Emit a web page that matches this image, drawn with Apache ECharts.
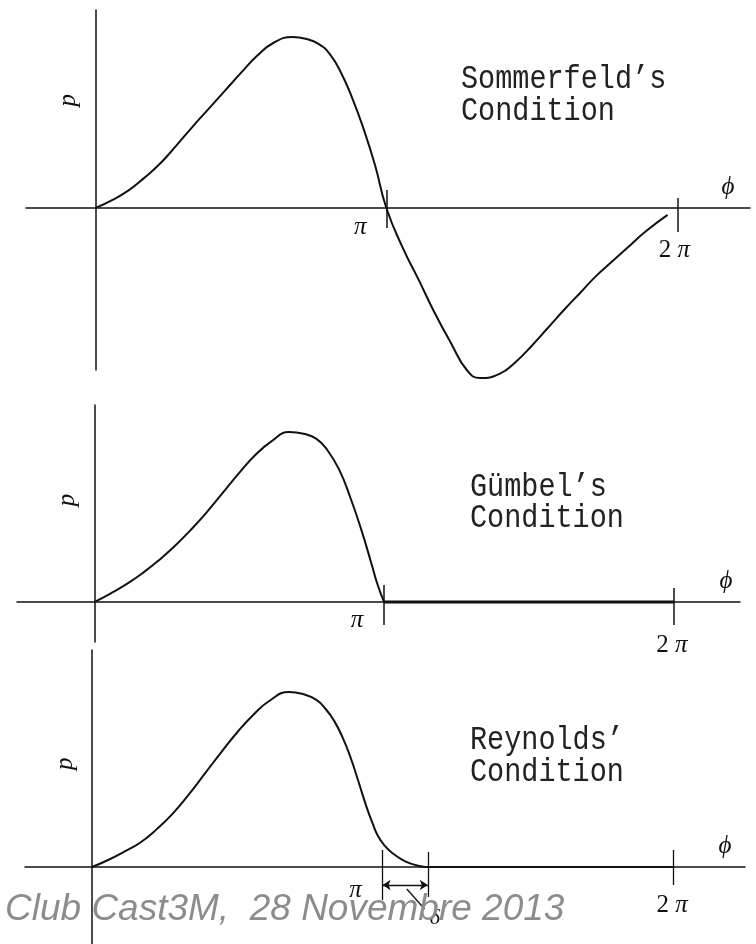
<!DOCTYPE html>
<html>
<head>
<meta charset="utf-8">
<title>Pressure boundary conditions</title>
<script src="https://cdn.jsdelivr.net/npm/echarts@6/dist/echarts.min.js"></script>
<style>
  html, body { margin: 0; padding: 0; background: #ffffff; }
  #chart { width: 756px; height: 944px; }
</style>
</head>
<body>
<div id="chart"></div>
<script>
// Film pressure p(φ) around a journal bearing under three boundary conditions.
// φ in degrees, p normalised to its peak value.

const sommerfeldPhi = [0, 10, 20, 30, 40, 50, 60, 70, 80, 90, 100, 110, 122, 130, 138, 145, 152, 159, 166, 173, 180,
  190, 200, 210, 220, 230, 238, 250, 260, 270, 280, 290, 300, 310, 320, 330, 340, 354];
const sommerfeldP = [0, 0.045, 0.1, 0.175, 0.26, 0.365, 0.475, 0.58, 0.685, 0.79, 0.89, 0.965, 1.0, 0.99, 0.96, 0.9, 0.79, 0.64, 0.46, 0.25, 0,
  -0.23, -0.42, -0.615, -0.79, -0.95, -0.994, -0.97, -0.9, -0.805, -0.7, -0.595, -0.495, -0.395, -0.31, -0.225, -0.14, -0.04];

const gumbelPhi = [0, 10, 20, 30, 40, 50, 60, 70, 80, 90, 100, 110, 121, 130, 138, 145, 152, 159, 166, 172, 176, 180];
const gumbelP = [0, 0.05, 0.105, 0.17, 0.245, 0.33, 0.425, 0.53, 0.645, 0.76, 0.865, 0.945, 1.0, 0.99, 0.96, 0.89, 0.78, 0.615, 0.42, 0.23, 0.1, 0];
// negative pressures discarded: p = 0 from π to 2π
const gumbelZeroPhi = [180, 360];
const gumbelZeroP = [0, 0];

const reynoldsPhi = [0, 10, 20, 30, 40, 50, 60, 70, 80, 90, 100, 110, 122, 130, 139, 145, 150, 155, 160, 165, 170, 174, 177,
  181, 186, 192, 198, 203, 208, 360];
const reynoldsP = [0, 0.04, 0.088, 0.14, 0.215, 0.305, 0.415, 0.535, 0.655, 0.77, 0.87, 0.95, 1.0, 0.99, 0.955, 0.9, 0.835, 0.745, 0.63, 0.49, 0.345, 0.245, 0.18,
  0.125, 0.08, 0.042, 0.018, 0.006, 0, 0];
const reynoldsRupture = 208;   // φ = π + δ, where the film ruptures

const tickAngles = [180, 360];
const tickLabels = ['{i|π}', '2 {i|π}'];

const conditionTitles = [
  ['Sommerfeld’s', 'Condition'],
  ['Gümbel’s', 'Condition'],
  ['Reynolds’', 'Condition']
];

const INK = '#111111';
const SERIF = '"Liberation Serif", "DejaVu Serif", serif';
const MONO = '"Liberation Mono", "DejaVu Sans Mono", monospace';

// Layout of the three stacked panels (pixels) and their axis ranges.
const layout = [
  { left: 26, width: 724, top: 10, height: 360, xMin: -43, xMax: 405, yMin: -0.947, yMax: 1.158,
    ticks: [[18, 20], [10, 24]], labelOffsets: [[-26, 19], [-3, 42]], phiGap: -22, pAt: 0.63,
    titleX: 461, titleY: [79, 111] },
  { left: 17, width: 723, top: 405, height: 237, xMin: -48, xMax: 401, yMin: -0.235, yMax: 1.159,
    ticks: [[17, 23], [14, 23]], labelOffsets: [[-27, 18], [-2, 43]], phiGap: -14, pAt: 0.6,
    titleX: 470, titleY: [487, 518] },
  { left: 25, width: 720, top: 650, height: 294, xMin: -41.5, xMax: 404.5, yMin: -0.44, yMax: 1.24,
    ticks: [[17, 33], [17, 18]], labelOffsets: [[-27, 23], [-1, 38]], phiGap: -20, pAt: 0.59,
    titleX: 470, titleY: [740, 772] }
];

function zip(xs, ys) { return xs.map((x, i) => [x, ys[i]]); }
function pxToP(L, px) { return px * (L.yMax - L.yMin) / L.height; }

function tickLines(L) {
  return tickAngles.map((a, i) => [
    { coord: [a, pxToP(L, L.ticks[i][0])] },
    { coord: [a, -pxToP(L, L.ticks[i][1])] }
  ]);
}

function labelPoints(L) {
  const pts = tickAngles.map((a, i) => ({
    coord: [a, 0],
    label: { formatter: tickLabels[i], offset: L.labelOffsets[i] }
  }));
  // rotated label: offset is given in the rotated frame
  pts.push({
    coord: [0, L.pAt],
    label: { formatter: 'p', offset: [0, -27], rotate: 90, fontStyle: 'italic' }
  });
  return pts;
}

const markLineBase = {
  silent: true, symbol: 'none', animation: false,
  label: { show: false },
  lineStyle: { color: INK, width: 1.5, type: 'solid' }
};

const markPointBase = {
  silent: true, symbol: 'circle', symbolSize: 0, animation: false,
  label: {
    show: true, position: 'inside', color: INK, fontFamily: SERIF, fontSize: 25,
    rich: { i: { fontFamily: SERIF, fontStyle: 'italic', fontSize: 25, color: INK } }
  }
};

const curveStyle = { color: INK, width: 2 };

const grids = layout.map(L => ({ left: L.left, width: L.width, top: L.top, height: L.height }));

const xAxes = layout.map((L, i) => ({
  gridIndex: i, type: 'value', min: L.xMin, max: L.xMax,
  axisLine: { onZero: true, lineStyle: { color: INK, width: 1.5 } },
  axisTick: { show: false }, axisLabel: { show: false }, splitLine: { show: false },
  name: 'ϕ', nameLocation: 'end', nameGap: L.phiGap,
  nameTextStyle: { color: INK, fontFamily: SERIF, fontStyle: 'italic', fontSize: 25,
    align: 'center', verticalAlign: 'bottom', padding: [0, 0, 8, 0] }
}));

const yAxes = layout.map((L, i) => ({
  gridIndex: i, type: 'value', min: L.yMin, max: L.yMax,
  axisLine: { onZero: true, lineStyle: { color: INK, width: 1.5 } },
  axisTick: { show: false }, axisLabel: { show: false }, splitLine: { show: false }
}));

const series = [
  {
    name: 'Sommerfeld', type: 'line', xAxisIndex: 0, yAxisIndex: 0,
    data: zip(sommerfeldPhi, sommerfeldP), smooth: 0.5, symbol: 'none', clip: false,
    lineStyle: curveStyle,
    markLine: Object.assign({}, markLineBase, { data: tickLines(layout[0]) }),
    markPoint: Object.assign({}, markPointBase, { data: labelPoints(layout[0]) })
  },
  {
    name: 'Gümbel', type: 'line', xAxisIndex: 1, yAxisIndex: 1,
    data: zip(gumbelPhi, gumbelP), smooth: 0.5, symbol: 'none', clip: false,
    lineStyle: curveStyle,
    markLine: Object.assign({}, markLineBase, { data: tickLines(layout[1]) }),
    markPoint: Object.assign({}, markPointBase, { data: labelPoints(layout[1]) })
  },
  {
    name: 'Gümbel cavitation', type: 'line', xAxisIndex: 1, yAxisIndex: 1,
    data: zip(gumbelZeroPhi, gumbelZeroP), symbol: 'none', clip: false,
    lineStyle: { color: INK, width: 3 }
  },
  {
    name: 'Reynolds', type: 'line', xAxisIndex: 2, yAxisIndex: 2,
    data: zip(reynoldsPhi, reynoldsP), smooth: 0.5, symbol: 'none', clip: false,
    lineStyle: Object.assign({}, curveStyle),
    markLine: Object.assign({}, markLineBase, {
      data: tickLines(layout[2]).concat([
        // tick at π + δ
        [{ coord: [reynoldsRupture, pxToP(layout[2], 15)] }, { coord: [reynoldsRupture, -pxToP(layout[2], 30)] }],
        // δ dimension arrow
        [{ coord: [tickAngles[0], -pxToP(layout[2], 18)], symbol: 'arrow', symbolSize: 8 },
         { coord: [reynoldsRupture, -pxToP(layout[2], 18)], symbol: 'arrow', symbolSize: 8 }],
        // leader to the δ label
        [{ coord: [195, -pxToP(layout[2], 22)] }, { coord: [206, -pxToP(layout[2], 42)] }]
      ]),
      lineStyle: { color: INK, width: 1.3, type: 'solid' }
    }),
    markPoint: Object.assign({}, markPointBase, {
      data: labelPoints(layout[2]).concat([
        { coord: [reynoldsRupture, 0], label: { formatter: 'δ', offset: [7, 51], fontStyle: 'italic', fontSize: 22 } }
      ])
    })
  }
];

// Condition captions in a narrow monospace face, two lines each.
const captionGraphics = [];
layout.forEach((L, i) => {
  conditionTitles[i].forEach((line, j) => {
    captionGraphics.push({
      type: 'text', x: L.titleX, y: L.titleY[j], scaleY: 1.15, silent: true,
      style: {
        text: line, fill: '#222222', fontFamily: MONO, fontSize: 28.5,
        align: 'left', verticalAlign: 'middle', textAlign: 'left', textVerticalAlign: 'middle'
      }
    });
  });
});

captionGraphics.push({
  type: 'text', x: 5, y: 910, silent: true, z: 100,
  style: {
    text: 'Club Cast3M,  28 Novembre 2013', fill: '#8c8c8c',
    fontFamily: '"Liberation Sans", Arial, sans-serif', fontStyle: 'italic', fontSize: 37,
    align: 'left', verticalAlign: 'middle', textAlign: 'left', textVerticalAlign: 'middle'
  }
});

const chart = echarts.init(document.getElementById('chart'), null, { renderer: 'canvas' });
chart.setOption({
  animation: false,
  backgroundColor: '#ffffff',
  grid: grids,
  xAxis: xAxes,
  yAxis: yAxes,
  series: series,
  graphic: captionGraphics
});
</script>
</body>
</html>
